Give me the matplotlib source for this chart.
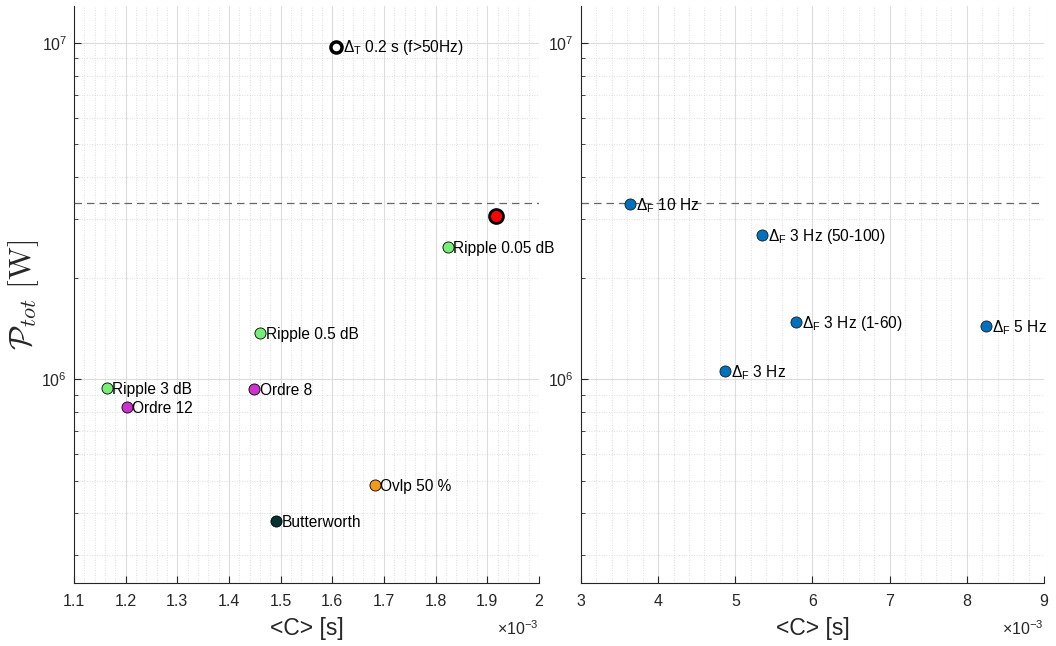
import matplotlib
matplotlib.use("Agg")
import matplotlib.pyplot as plt
from matplotlib.ticker import FuncFormatter, LogLocator, MultipleLocator, NullFormatter

plt.rcParams['font.family'] = ['Liberation Sans', 'DejaVu Sans']
plt.rcParams['mathtext.fontset'] = 'custom'
plt.rcParams['mathtext.rm'] = 'Liberation Sans'
plt.rcParams['mathtext.it'] = 'Liberation Sans'

# ---- data: left panel (filter variants) ----
left_labels = ['Ripple 0.05 dB', 'Ripple 0.5 dB', 'Ripple 3 dB', 'Ordre 8',
               'Ordre 12', 'Ovlp 50 %', 'Butterworth']
left_x = [1.823e-3, 1.460e-3, 1.163e-3, 1.449e-3, 1.202e-3, 1.682e-3, 1.491e-3]
left_y = [2.47e6, 1.37e6, 9.4e5, 9.35e5, 8.26e5, 4.85e5, 3.78e5]
left_colors = ['#77EE77', '#77EE77', '#77EE77', '#CC33CC', '#CC33CC', '#F39A1E', '#003333']

dT_label = r'$\Delta_{\mathrm{T}}$ 0.2 s (f>50Hz)'
dT_x = 1.607e-3
dT_y = 9.73e6

ref_x = 1.917e-3
ref_y = 3.05e6

threshold = 3.35e6

# ---- data: right panel (frequency resolution) ----
right_labels = [r'$\Delta_{\mathrm{F}}$ 10 Hz', r'$\Delta_{\mathrm{F}}$ 3 Hz (50-100)',
                r'$\Delta_{\mathrm{F}}$ 3 Hz (1-60)', r'$\Delta_{\mathrm{F}}$ 5 Hz',
                r'$\Delta_{\mathrm{F}}$ 3 Hz']
right_x = [3.635e-3, 5.35e-3, 5.79e-3, 8.25e-3, 4.866e-3]
right_y = [3.32e6, 2.68e6, 1.48e6, 1.44e6, 1.06e6]
right_color = '#0072BD'

fig = plt.figure(figsize=(10.56, 6.46), dpi=100)
axL = fig.add_axes([0.0701, 0.0975, 0.4403, 0.8935])
axR = fig.add_axes([0.5502, 0.0975, 0.4384, 0.8935])

tick_fs = 11.5
ann_fs = 11.2
spine_c = '#262626'

def style(ax, xlim, major, minor):
    ax.set_yscale('log')
    ax.set_ylim(2.48e5, 1.29e7)
    ax.set_xlim(*xlim)
    ax.xaxis.set_major_locator(MultipleLocator(major))
    ax.xaxis.set_minor_locator(MultipleLocator(minor))
    ax.xaxis.set_major_formatter(FuncFormatter(lambda v, p: f'{v * 1e3:.4g}'))
    ax.yaxis.set_major_locator(LogLocator(base=10, numticks=10))
    ax.yaxis.set_minor_locator(LogLocator(base=10, subs=range(2, 10), numticks=20))
    ax.yaxis.set_minor_formatter(NullFormatter())
    for s in ['top', 'right']:
        ax.spines[s].set_visible(False)
    for s in ['left', 'bottom']:
        ax.spines[s].set_color(spine_c)
        ax.spines[s].set_linewidth(0.8)
    ax.tick_params(axis='both', which='both', direction='in', colors=spine_c,
                   labelsize=tick_fs)
    ax.tick_params(axis='x', which='major', pad=8)
    ax.tick_params(axis='y', which='major', pad=5)
    ax.tick_params(axis='x', which='minor', length=0)
    ax.tick_params(axis='y', which='minor', length=3)
    ax.tick_params(axis='both', which='major', length=5)
    ax.grid(True, which='major', color='#DCDCDC', linewidth=0.8, linestyle='-')
    ax.grid(True, which='minor', color='#D2D2D2', linewidth=0.6, linestyle=(0, (1, 2)))
    ax.set_axisbelow(True)
    ax.text(1.0, -0.062, r'$\times10^{-3}$', transform=ax.transAxes, ha='right',
            va='top', fontsize=11.5, color=spine_c)
    ax.set_xlabel('<C> [s]', fontsize=16.5, color=spine_c, labelpad=6)

style(axL, (1.1e-3, 2.0e-3), 0.1e-3, 0.02e-3)
style(axR, (3e-3, 9e-3), 1e-3, 0.2e-3)

axL.set_ylabel(r'$\mathcal{P}_{tot}\ \mathrm{[W]}$', fontsize=23, math_fontfamily='cm',
               color=spine_c, labelpad=0)

dash = (0, (6, 4))
for ax in (axL, axR):
    ax.axhline(threshold, color='#666666', linewidth=0.9, linestyle=dash, zorder=2)

# left panel markers
for xv, yv, c, lab in zip(left_x, left_y, left_colors, left_labels):
    axL.plot(xv, yv, 'o', ms=8, mfc=c, mec='black', mew=0.6, zorder=4)
    axL.annotate(lab, (xv, yv), xytext=(4, -1), textcoords='offset points',
                 va='center', ha='left', fontsize=ann_fs, zorder=5)

axL.plot(dT_x, dT_y, 'o', ms=8, mfc='white', mec='black', mew=2.5, zorder=4)
axL.annotate(dT_label, (dT_x, dT_y), xytext=(5, 0), textcoords='offset points',
             va='center', ha='left', fontsize=ann_fs, zorder=5)

axL.plot(ref_x, ref_y, 'o', ms=10, mfc='#FF0000', mec='black', mew=2.0, zorder=4)

# right panel markers
for xv, yv, lab in zip(right_x, right_y, right_labels):
    axR.plot(xv, yv, 'o', ms=8, mfc=right_color, mec='#1a1a1a', mew=0.6, zorder=4)
    axR.annotate(lab, (xv, yv), xytext=(4, -1), textcoords='offset points',
                 va='center', ha='left', fontsize=ann_fs, zorder=5)

fig.savefig('out.png', dpi=100)
